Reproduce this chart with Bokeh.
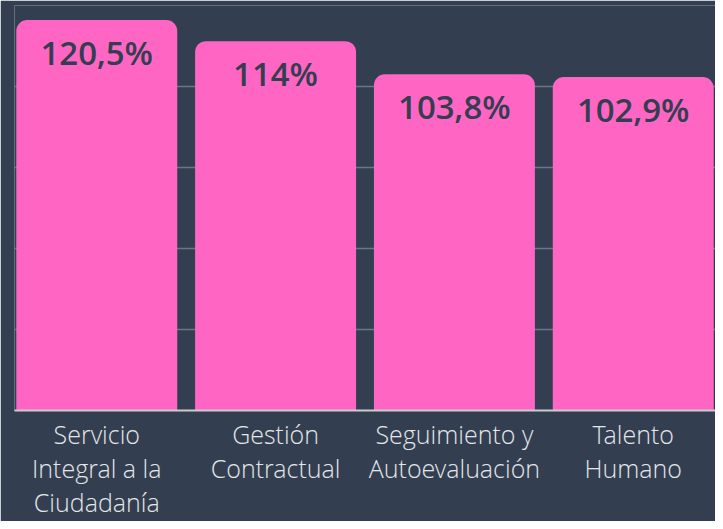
from bokeh.plotting import figure
from bokeh.models import ColumnDataSource, FixedTicker, FactorRange
from bokeh.core.properties import value
from bokeh.embed import file_html
from bokeh.resources import INLINE

categories = ["Servicio\nIntegral a la\nCiudadanía", "Gestión\nContractual",
              "Seguimiento y\nAutoevaluación", "Talento\nHumano"]
values = [120.5, 114.0, 103.8, 102.9]
value_labels = ["120,5%", "114%", "103,8%", "102,9%"]
grid_ticks = [0, 25, 50, 75, 100, 125]

BG = "#333f50"
PINK = "#ff66c4"

src = ColumnDataSource(dict(cat=categories, val=values, lab=value_labels))

p = figure(width=715, height=521, output_backend="svg", toolbar_location=None,
           x_range=FactorRange(*categories, range_padding=-0.04, range_padding_units="absolute"),
           y_range=(0, 125), background_fill_color=BG, border_fill_color=BG,
           min_border_left=14, min_border_right=0, min_border_top=5, min_border_bottom=100)
p.outline_line_color = None

p.vbar(x="cat", top="val", width=0.9, source=src, fill_color=PINK, line_color=None,
       border_radius=(11, 11, 0, 0))

p.text(x="cat", y="val", text="lab", source=src, text_align="center", text_baseline="middle",
       y_offset=32, text_font=value("Open Sans SemiBold, Open Sans"), text_font_style="normal",
       text_font_size="33px", text_color=BG)

p.yaxis.visible = False
p.ygrid.ticker = FixedTicker(ticks=grid_ticks)
p.ygrid.grid_line_color = "#6b7684"
p.ygrid.grid_line_width = 1.5
p.xgrid.visible = False

ax = p.xaxis[0]
ax.axis_line_color = "#c9ccd1"
ax.axis_line_width = 2
ax.major_tick_line_color = None
ax.minor_tick_line_color = None
ax.major_label_text_font = "Open Sans Light"
ax.major_label_text_font_size = "25px"
ax.major_label_text_color = "#e4e6ea"
ax.major_label_text_line_height = 1.0
ax.major_label_standoff = 0

open("out.html", "w").write(file_html(p, INLINE))
